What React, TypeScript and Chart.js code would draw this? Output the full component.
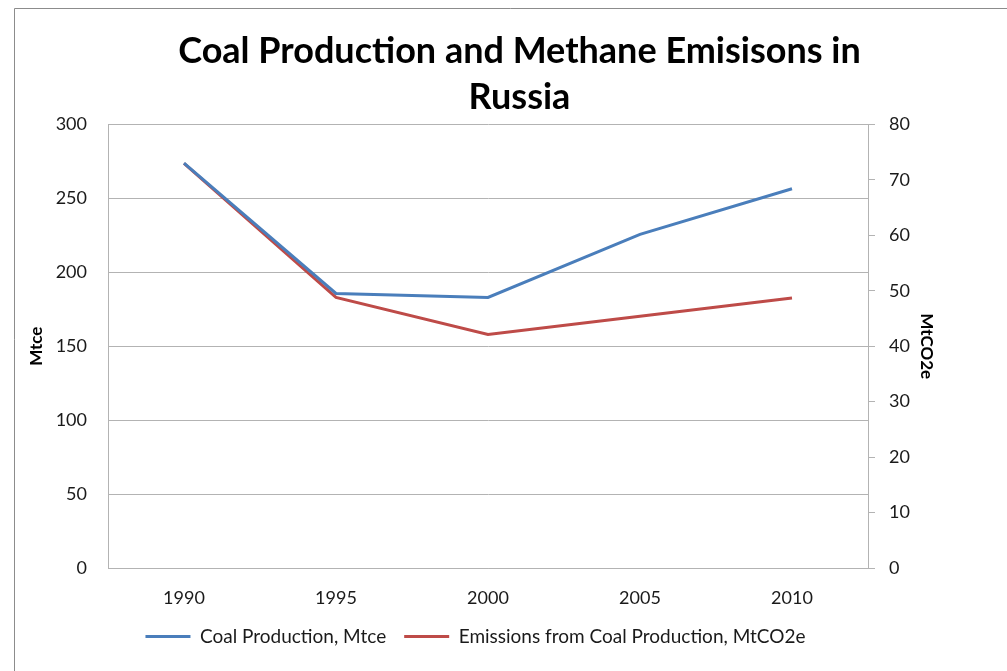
import React, { useEffect, useRef } from "react";
import { Chart, registerables } from "chart.js";

Chart.register(...registerables);

const years = ["1990", "1995", "2000", "2005", "2010"];
const coalProduction = [273.8, 185.7, 183.0, 225.7, 256.5];
const methaneEmissions = [73.0, 48.8, 42.1, 45.4, 48.7];
const titleLines = ["Coal Production and Methane Emisisons in", "Russia"];

const FONT = "Lato, 'Open Sans', 'DejaVu Sans', sans-serif";
const GRID = "#b3b3b3";

const framePlugin = {
  id: "frame",
  beforeDraw(chart: any) {
    const ctx = chart.ctx;
    ctx.save();
    ctx.fillStyle = "#ffffff";
    ctx.fillRect(0, 0, chart.width, chart.height);
    ctx.strokeStyle = "#8c8c8c";
    ctx.lineWidth = 1;
    ctx.beginPath();
    ctx.moveTo(14.5, chart.height);
    ctx.lineTo(14.5, 8.5);
    ctx.lineTo(chart.width, 8.5);
    ctx.stroke();
    ctx.restore();
  },
};

// nudge the title and legend boxes horizontally to sit where the original has them
const shiftPlugin = {
  id: "shiftBoxes",
  afterLayout(chart: any) {
    const lg = chart.legend;
    if (lg) {
      lg.left -= 38;
      lg.right -= 38;
    }
    const tt = chart.titleBlock;
    if (tt) {
      tt.left += 6;
      tt.right += 6;
    }
  },
};

export default function App() {
  const ref = useRef<HTMLCanvasElement | null>(null);

  useEffect(() => {
    document.body.style.margin = "0";
    const canvas = ref.current;
    if (!canvas) return;
    const chart = new Chart(canvas, {
      type: "line",
      data: {
        labels: years,
        datasets: [
          {
            label: "Coal Production, Mtce",
            data: coalProduction,
            borderColor: "#4a7ebb",
            backgroundColor: "#4a7ebb",
            borderWidth: 3,
            pointRadius: 0,
            tension: 0,
            yAxisID: "y",
          },
          {
            label: "Emissions from Coal Production, MtCO2e",
            data: methaneEmissions,
            borderColor: "#be4b48",
            backgroundColor: "#be4b48",
            borderWidth: 3,
            pointRadius: 0,
            tension: 0,
            yAxisID: "y1",
          },
        ],
      },
      options: {
        animation: false,
        responsive: false,
        maintainAspectRatio: false,
        layout: { padding: { left: 20, right: 0, top: 14, bottom: 15 } },
        plugins: {
          title: {
            display: true,
            text: titleLines,
            color: "#000000",
            font: { family: FONT, size: 36, weight: "bold", lineHeight: 1.27 },
            padding: { top: 15, bottom: 4 },
          },
          legend: {
            position: "bottom",
            labels: {
              usePointStyle: true,
              pointStyle: "line",
              pointStyleWidth: 45,
              boxHeight: 3,
              color: "#1a1a1a",
              font: { family: FONT, size: 19 },
              padding: 18,
            },
          },
          tooltip: { enabled: false },
        },
        scales: {
          x: {
            offset: true,
            grid: { display: false, drawTicks: false },
            border: { display: true, color: GRID, width: 1 },
            ticks: { color: "#1a1a1a", font: { family: FONT, size: 18 }, padding: 19 },
            afterFit(scale: any) {
              scale.height = 41;
            },
          },
          y: {
            position: "left",
            min: 0,
            max: 300,
            ticks: { stepSize: 50, color: "#1a1a1a", font: { family: FONT, size: 18 }, padding: 21 },
            grid: { color: GRID, drawTicks: false },
            border: { display: true, color: GRID },
            title: {
              display: true,
              text: "Mtce",
              color: "#000000",
              font: { family: FONT, size: 17, weight: "bold" },
              padding: 6,
            },
            afterFit(scale: any) {
              scale.width = 88;
            },
          },
          y1: {
            position: "right",
            min: 0,
            max: 80,
            ticks: { stepSize: 10, color: "#1a1a1a", font: { family: FONT, size: 18 }, padding: 14 },
            grid: { color: GRID, drawOnChartArea: false, drawTicks: true, tickLength: 7 },
            border: { display: true, color: GRID },
            title: {
              display: true,
              text: "MtCO2e",
              color: "#000000",
              font: { family: FONT, size: 17, weight: "bold" },
              padding: 70,
            },
            afterFit(scale: any) {
              scale.width = 139;
            },
          },
        },
      },
      plugins: [framePlugin, shiftPlugin],
    });
    return () => chart.destroy();
  }, []);

  return (
    <div style={{ position: "absolute", left: 0, top: 0, width: 1007, height: 671 }}>
      <canvas ref={ref} width={1007} height={671} style={{ display: "block" }} />
    </div>
  );
}
